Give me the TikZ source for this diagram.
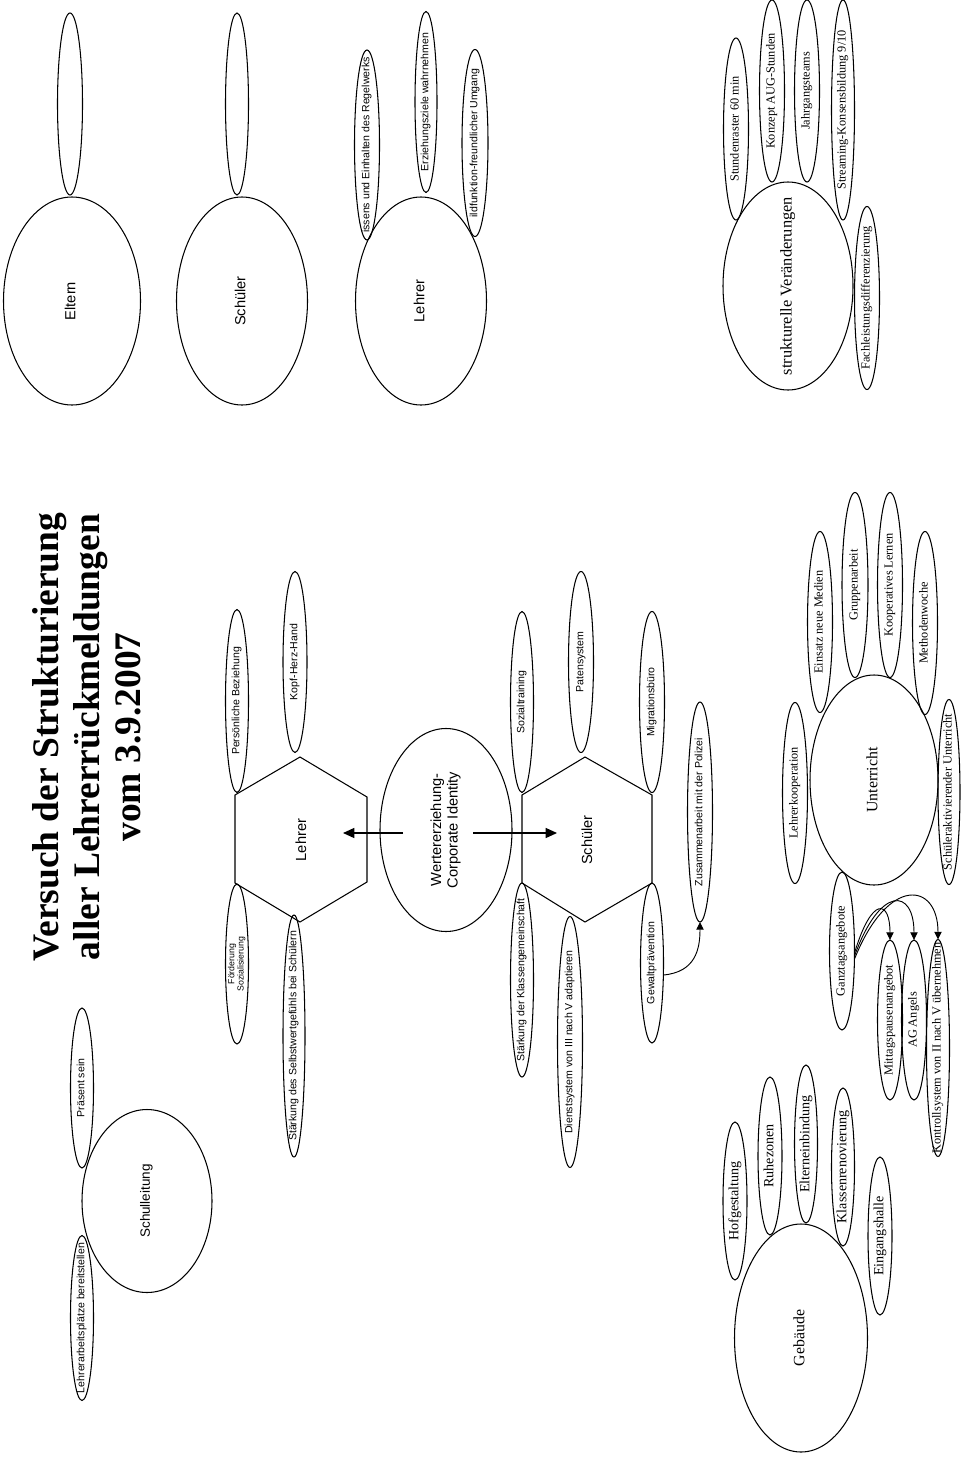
\documentclass[tikz,border=0pt]{standalone}
\usepackage{fontspec}
\setmainfont{Liberation Serif}
\newfontfamily\sansf{Liberation Sans}
\usetikzlibrary{shapes.geometric,arrows.meta,calc}
\newcommand\zt[1]{\makebox[0pt]{\raisebox{-0.25em}[0pt][0pt]{\begin{tabular}{@{}c@{}}#1\end{tabular}}}}
\tikzset{
  el/.style={ellipse, draw, line width=0.9pt, rotate=90, inner sep=0pt, outer sep=0pt},
  sz/.style 2 args={minimum width=#1*0.3mm, minimum height=#2*0.3mm},
  ssm/.style={font=\sansf\fontsize{9}{10}\selectfont},
  stiny/.style={font=\sansf\fontsize{7.5}{8}\selectfont},
  sbig/.style={font=\sansf\fontsize{12.5}{14}\selectfont},
  rsm/.style={font=\fontsize{10.5}{12}\selectfont},
  rmid/.style={font=\fontsize{12}{14}\selectfont},
  rbig/.style={font=\fontsize{13.5}{15}\selectfont},
  lbl/.style={rotate=90, inner sep=0pt},
  edge/.style={line width=0.9pt},
  bigarr/.style={line width=1.2pt, -{Triangle[length=3.4mm,width=3mm]}},
  smarr/.style={line width=0.8pt, -{Triangle[length=2.3mm,width=2.2mm]}}
}
\begin{document}
\begin{tikzpicture}[x=0.3mm,y=-0.3mm]
\fill[white] (0,0) rectangle (960,1479);
\useasboundingbox (0,0) rectangle (960,1479);

% ---------- title ----------
\node[rotate=90, align=center, font=\bfseries\fontsize{32}{35}\selectfont] (title) at (87,737)
  {Versuch der Strukturierung\\aller Lehrerrückmeldungen\\vom 3.9.2007};

% ---------- top row: Eltern / Schüler / Lehrer ----------
\node[el, sz={208}{137}, sbig] (eltern) at (72,301) {\zt{Eltern}};
\node[el, sz={182}{25}] (elternA) at (70,104) {};
\node[el, sz={208}{131}, sbig] (schuelerT) at (242,301) {\zt{Schüler}};
\node[el, sz={182}{23}] (schuelerA) at (237,104) {};
\node[el, sz={208}{131}, sbig] (lehrerT) at (421,301) {\zt{Lehrer}};
\node[el, sz={190}{25}, ssm] (lT1) at (367,145) {\zt{issens und Einhalten des Regelwerks}};
\node[el, sz={181}{22}, ssm] (lT2) at (426,102) {\zt{Erziehungsziele wahrnehmen}};
\node[el, sz={187}{26}, ssm] (lT3) at (475,143) {\zt{ildfunktion-freundlicher Umgang}};

% ---------- strukturelle Veränderungen ----------
\node[el, sz={208}{130}, font=\fontsize{14}{16}\selectfont] (sv) at (788,286) {\zt{strukturelle Veränderungen}};
\node[el, sz={182}{25}, rsm] (sv1) at (736,129) {\zt{Stundenraster 60 min}};
\node[el, sz={182}{25}, rsm] (sv2) at (772,91) {\zt{Konzept AUG-Stunden}};
\node[el, sz={182}{25}, rsm] (sv3) at (807,91) {\zt{Jahrgangsteams}};
\node[el, sz={220}{23}, rsm] (sv4) at (843,110) {\zt{Streaming-Konsensbildung 9/10}};
\node[el, sz={183}{25}, rsm] (sv5) at (867,298) {\zt{Fachleistungsdifferenzierung}};

% ---------- Lehrer hexagon ----------
\coordinate (LA) at (300,757);
\coordinate (LB) at (367,797);
\coordinate (LC) at (367,882);
\coordinate (LD) at (300,922);
\coordinate (LE) at (235,883);
\coordinate (LF) at (235,795);
\draw[edge] (LA) -- (LB) -- (LC) -- (LD) -- (LE) -- (LF) -- cycle;
\node[lbl, sbig] (lehrerH) at (301,840) {Lehrer};
\node[el, sz={183}{23}, ssm] (lh1) at (237,701) {\zt{Persönliche Beziehung}};
\node[el, sz={181}{24}, ssm] (lh2) at (295,662) {\zt{Kopf-Herz-Hand}};
\node[el, sz={160}{23}, stiny] (lh3) at (237,964) {\zt{Förderung\\Sozialisierung}};
\node[el, sz={242}{22}, ssm] (lh4) at (294,1036) {\zt{Stärkung des Selbstwertgefühls bei Schülern}};

% ---------- Wertererziehung ----------
\node[el, sz={203}{132}, sbig] (werte) at (446,830) {\zt{Wertererziehung-\\Corporate Identity}};
\coordinate (wl) at (403,833);
\coordinate (al) at (343,833);
\coordinate (wr) at (473,833);
\coordinate (ar) at (557,833);
\draw[bigarr] (wl) -- (al);
\draw[bigarr] (wr) -- (ar);

% ---------- Schüler hexagon ----------
\coordinate (SA) at (585,757);
\coordinate (SB) at (652,795);
\coordinate (SC) at (652,883);
\coordinate (SD) at (585,922);
\coordinate (SE) at (522,883);
\coordinate (SF) at (522,795);
\draw[edge] (SA) -- (SB) -- (SC) -- (SD) -- (SE) -- (SF) -- cycle;
\node[lbl, sbig] (schuelerH) at (587,840) {Schüler};
\node[el, sz={181}{23}, ssm] (sh1) at (522,702) {\zt{Sozialtraining}};
\node[el, sz={181}{25}, ssm] (sh2) at (581,662) {\zt{Patensystem}};
\node[el, sz={181}{25}, ssm] (sh3) at (652,702) {\zt{Migrationsbüro}};
\node[el, sz={220}{25}, ssm] (sh4) at (700,812) {\zt{Zusammenarbeit mit der Polizei}};
\node[el, sz={194}{23}, ssm] (sh5) at (522,980) {\zt{Stärkung der Klassengemeinschaft}};
\node[el, sz={251}{25}, ssm] (sh6) at (570,1042) {\zt{Dienstsystem von III nach V adaptieren}};
\node[el, sz={160}{23}, ssm] (sh7) at (652,963) {\zt{Gewaltprävention}};
\draw[smarr] ($(sh7.south)+(0,12)$) .. controls (695,972) and (700,950) .. (sh4.west);

% ---------- Schulleitung ----------
\node[el, sz={183}{130}, font=\sansf\fontsize{11.5}{13}\selectfont] (sl) at (147,1201) {\zt{Schulleitung}};
\node[el, sz={160}{23}, ssm] (sl1) at (82,1088) {\zt{Präsent sein}};
\node[el, sz={165}{23}, ssm] (sl2) at (82,1318) {\zt{Lehrerarbeitsplätze bereitstellen}};

% ---------- Unterricht ----------
\node[el, sz={210}{128}, rbig] (ut) at (874,780) {\zt{Unterricht}};
\node[el, sz={181}{25}, rsm] (u1) at (795,793) {\zt{Lehrerkooperation}};
\node[el, sz={181}{25}, rsm] (u2) at (820,622) {\zt{Einsatz neue Medien}};
\node[el, sz={185}{26}, rsm] (u3) at (855,585) {\zt{Gruppenarbeit}};
\node[el, sz={185}{25}, rsm] (u4) at (890,585) {\zt{Kooperatives Lernen}};
\node[el, sz={183}{25}, rsm] (u5) at (925,623) {\zt{Methodenwoche}};
\node[el, sz={185}{22}, rsm] (u6) at (949,792) {\zt{Schüleraktivierender Unterricht}};

% ---------- Ganztag ----------
\node[el, sz={158}{25}, rsm] (gz) at (842,951) {\zt{Ganztagsangebote}};
\node[el, sz={160}{25}, rsm] (mp) at (890,1020) {\zt{Mittagspausenangebot}};
\node[el, sz={160}{25}, rsm] (ag) at (914,1020) {\zt{AG Angels}};
\node[el, sz={217}{23}, rsm] (kt) at (938,1048) {\zt{Kontrollsystem von II nach V übernehmen}};
\draw[smarr] ($(gz.south)+(0,2)$) .. controls (872,895) and (890,900) .. (mp.east);
\draw[smarr] ($(gz.south)+(0,5)$) .. controls (880,885) and (914,888) .. (ag.east);
\draw[smarr] ($(gz.south)+(0,8)$) .. controls (888,875) and (938,882) .. (kt.east);

% ---------- Gebäude ----------
\node[el, sz={228}{133}, rbig] (gb) at (801,1338) {\zt{Gebäude}};
\node[el, sz={158}{24}, rmid] (g1) at (735,1201) {\zt{Hofgestaltung}};
\node[el, sz={158}{24}, rmid] (g2) at (770,1156) {\zt{Ruhezonen}};
\node[el, sz={158}{23}, rmid] (g3) at (806,1144) {\zt{Elterneinbindung}};
\node[el, sz={158}{23}, rmid] (g4) at (843,1167) {\zt{Klassenrenovierung}};
\node[el, sz={158}{24}, rmid] (g5) at (880,1236) {\zt{Eingangshalle}};
\end{tikzpicture}
\end{document}
